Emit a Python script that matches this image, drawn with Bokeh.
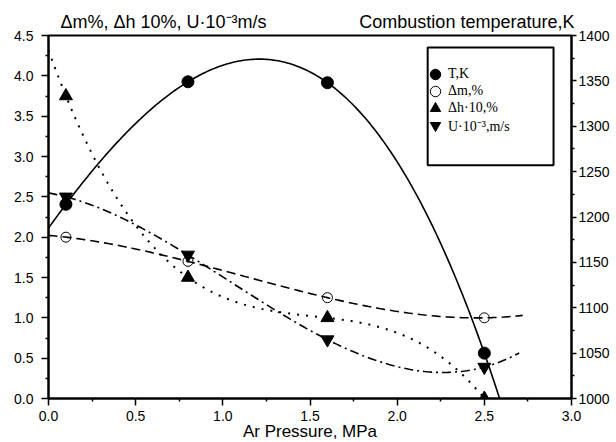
import numpy as np
from bokeh.plotting import figure
from bokeh.models import (Range1d, LinearAxis, Legend, LegendItem,
                          BoxAnnotation, FixedTicker, NumeralTickFormatter)
from bokeh.embed import file_html
from bokeh.resources import INLINE

# ---- data ----
pressure = [0.1, 0.8, 1.6, 2.5]                 # Ar pressure, MPa
temperature_K = [1214, 1349, 1348, 1050]        # combustion temperature, K (right axis)
mass_loss = [2.0, 1.7, 1.25, 1.0]               # Δm, %
height_change = [3.75, 1.5, 1.0, 0.0]           # Δh·10, %
velocity = [2.5, 1.78, 0.73, 0.39]              # U·10^-3, m/s

x_ticks = [0.0, 0.5, 1.0, 1.5, 2.0, 2.5, 3.0]
left_ticks = [0.0, 0.5, 1.0, 1.5, 2.0, 2.5, 3.0, 3.5, 4.0, 4.5]
right_ticks = [1000, 1050, 1100, 1150, 1200, 1250, 1300, 1350, 1400]

legend_labels = ["T,K", "\u0394m,%", "\u0394h\u00b710,%", "U\u00b710\u207b\u00b3,m/s"]
left_title = "\u0394m%, \u0394h 10%, U\u00b710\u207b\u00b3m/s"
right_title = "Combustion temperature,K"
x_title = "Ar Pressure, MPa"

# extent of each cubic fit curve (x, MPa)
fit_end = {"T": 2.62, "dm": 2.72, "dh": 2.6, "U": 2.7}

# layout helpers (positions, not data)
title_centers = [0.66, 2.40]                  # x-centres of the two top titles
legend_rows_y = [311, 294, 277, 260]          # legend row offsets from frame bottom (px)


def mids(t):
    return [(a + b) / 2 for a, b in zip(t[:-1], t[1:])]


def cubic(xs, ys, end):
    c = np.polyfit(xs, ys, 3)
    gx = np.linspace(0.0, end, 200)
    return gx, np.polyval(c, gx)


SANS = "Liberation Sans"
SERIF = "Liberation Serif"

p = figure(frame_width=523, frame_height=363,
           x_range=Range1d(0, 3), y_range=Range1d(0, 4.5),
           output_backend="svg", toolbar_location=None,
           min_border_left=48, min_border_top=35, min_border_right=0,
           min_border_bottom=0)
p.extra_y_ranges = {"T": Range1d(1000, 1400)}
p.xgrid.visible = False
p.ygrid.visible = False
p.outline_line_color = "black"
p.outline_line_width = 2
p.background_fill_color = "white"
p.border_fill_color = "white"


def style_axis(ax, ticks, fmt):
    ax.ticker = FixedTicker(ticks=ticks, minor_ticks=mids(ticks))
    ax.formatter = NumeralTickFormatter(format=fmt)
    ax.axis_line_width = 2
    ax.axis_line_color = "black"
    ax.major_tick_line_width = 1.5
    ax.major_tick_line_color = "black"
    ax.minor_tick_line_width = 1.5
    ax.minor_tick_line_color = "black"
    ax.major_tick_in = 0
    ax.major_tick_out = 7
    ax.minor_tick_in = 0
    ax.minor_tick_out = 3
    ax.major_label_text_font = SANS
    ax.major_label_text_font_size = "14px"
    ax.major_label_text_color = "black"


style_axis(p.xaxis[0], x_ticks, "0.0")
style_axis(p.yaxis[0], left_ticks, "0.0")
p.xaxis[0].major_label_standoff = 5
p.yaxis[0].major_label_standoff = 8
p.xaxis[0].axis_label = x_title
p.xaxis[0].axis_label_text_font = SANS
p.xaxis[0].axis_label_text_font_size = "17px"
p.xaxis[0].axis_label_text_font_style = "normal"
p.xaxis[0].axis_label_text_color = "black"
p.xaxis[0].axis_label_standoff = -2

ax_r = LinearAxis(y_range_name="T")
style_axis(ax_r, right_ticks, "0")
ax_r.major_tick_out = 5
ax_r.major_label_standoff = 2
p.add_layout(ax_r, "right")

# two headings above the frame, drawn as labels of a bare top axis
ax_t = LinearAxis(ticker=FixedTicker(ticks=title_centers, minor_ticks=[]),
                  major_label_overrides={title_centers[0]: left_title,
                                         title_centers[1]: right_title})
ax_t.axis_line_alpha = 0
ax_t.major_tick_line_alpha = 0
ax_t.minor_tick_line_alpha = 0
ax_t.major_tick_out = 0
ax_t.major_tick_in = 0
ax_t.major_label_standoff = 4
ax_t.major_label_text_font = SANS
ax_t.major_label_text_font_size = "18px"
ax_t.major_label_text_color = "black"
p.add_layout(ax_t, "above")

# ---- fit curves ----
gx, gy = cubic(pressure, temperature_K, fit_end["T"])
p.line(gx, gy, y_range_name="T", line_color="black", line_width=1.6)

gx, gy = cubic(pressure, mass_loss, fit_end["dm"])
p.line(gx, gy, line_color="black", line_width=1.6, line_dash="9 5")

gx, gy = cubic(pressure, height_change, fit_end["dh"])
p.line(gx, gy, line_color="black", line_width=2, line_dash="2 7")

gx, gy = cubic(pressure, velocity, fit_end["U"])
p.line(gx, gy, line_color="black", line_width=1.6, line_dash="9 4 2 4")

# ---- markers ----
r_T = p.scatter(pressure, temperature_K, y_range_name="T", marker="circle",
                size=12, fill_color="black", line_color="black")
r_dm = p.scatter(pressure, mass_loss, marker="circle", size=10,
                 fill_alpha=0, line_color="black", line_width=1)
r_dh = p.scatter(pressure, height_change, marker="triangle", size=13,
                 fill_color="black", line_color="black")
r_U = p.scatter(pressure, velocity, marker="inverted_triangle", size=13,
                fill_color="black", line_color="black")

# ---- legend ----
box = BoxAnnotation(left=2.175, right=2.897, top=4.35, bottom=2.89,
                    fill_alpha=0, line_color="black", line_alpha=1,
                    line_width=2)
p.add_layout(box)

for lab, rend, ly in zip(legend_labels, [r_T, r_dm, r_dh, r_U], legend_rows_y):
    lg = Legend(items=[LegendItem(label=lab, renderers=[rend])],
                location=(374, ly), background_fill_alpha=0,
                border_line_alpha=0, padding=0, margin=0, spacing=0,
                glyph_width=26, glyph_height=26, label_height=14,
                label_standoff=0, label_text_font=SERIF,
                label_text_font_size="14px", label_text_color="black")
    p.add_layout(lg)

open("out.html", "w").write(file_html(p, INLINE))
